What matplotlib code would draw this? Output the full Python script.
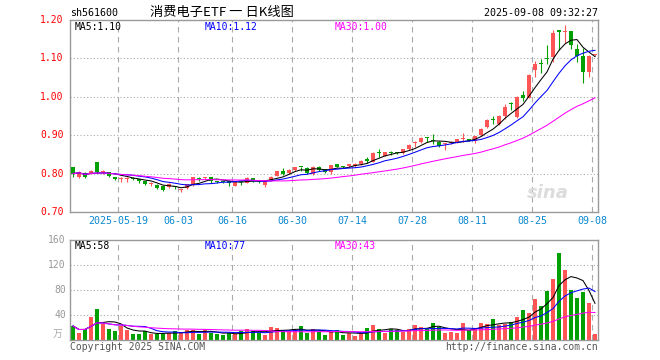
import matplotlib.pyplot as plt
import numpy as np
import pandas as pd

# daily bars 2025-05-07 .. 2025-09-08 (88 trading days)
opens = [0.817, 0.790, 0.801, 0.801, 0.830, 0.803, 0.804, 0.790, 0.785, 0.787,
         0.789, 0.784, 0.780, 0.774, 0.771, 0.767, 0.765, 0.766, 0.756, 0.762,
         0.770, 0.789, 0.788, 0.790, 0.781, 0.779, 0.781, 0.769, 0.779, 0.776,
         0.788, 0.783, 0.770, 0.782, 0.795, 0.806, 0.801, 0.809, 0.817, 0.815,
         0.799, 0.818, 0.811, 0.803, 0.825, 0.818, 0.821, 0.820, 0.824, 0.835,
         0.831, 0.854, 0.846, 0.854, 0.854, 0.853, 0.864, 0.879, 0.882, 0.893,
         0.885, 0.882, 0.876, 0.879, 0.882, 0.891, 0.890, 0.886, 0.900, 0.921,
         0.940, 0.929, 0.950, 0.982, 0.948, 1.004, 0.998, 1.070, 1.086, 1.100,
         1.103, 1.172, 1.168, 1.171, 1.124, 1.107, 1.065, 1.108]
closes = [0.800, 0.804, 0.790, 0.808, 0.804, 0.806, 0.794, 0.787, 0.787, 0.789,
          0.786, 0.782, 0.772, 0.776, 0.763, 0.757, 0.774, 0.764, 0.758, 0.773,
          0.791, 0.787, 0.790, 0.782, 0.779, 0.778, 0.775, 0.779, 0.777, 0.789,
          0.781, 0.777, 0.781, 0.792, 0.807, 0.800, 0.810, 0.817, 0.816, 0.801,
          0.818, 0.810, 0.803, 0.822, 0.818, 0.817, 0.822, 0.826, 0.833, 0.834,
          0.854, 0.853, 0.856, 0.853, 0.853, 0.863, 0.875, 0.882, 0.893, 0.892,
          0.884, 0.873, 0.878, 0.881, 0.889, 0.893, 0.885, 0.898, 0.917, 0.940,
          0.939, 0.950, 0.974, 0.980, 0.999, 0.998, 1.057, 1.085, 1.085, 1.099,
          1.165, 1.170, 1.169, 1.134, 1.107, 1.065, 1.107, 1.110]
highs = [0.818, 0.806, 0.803, 0.810, 0.831, 0.810, 0.805, 0.792, 0.790, 0.790,
         0.790, 0.787, 0.781, 0.779, 0.772, 0.768, 0.775, 0.768, 0.760, 0.774,
         0.792, 0.791, 0.792, 0.791, 0.782, 0.781, 0.782, 0.780, 0.781, 0.790,
         0.789, 0.784, 0.783, 0.794, 0.808, 0.814, 0.811, 0.818, 0.818, 0.816,
         0.819, 0.820, 0.812, 0.823, 0.826, 0.820, 0.825, 0.828, 0.835, 0.842,
         0.856, 0.864, 0.857, 0.860, 0.857, 0.864, 0.876, 0.884, 0.895, 0.896,
         0.902, 0.885, 0.880, 0.884, 0.890, 0.905, 0.891, 0.899, 0.919, 0.941,
         0.950, 0.952, 0.980, 0.986, 1.001, 1.016, 1.059, 1.092, 1.098, 1.134,
         1.174, 1.173, 1.186, 1.172, 1.137, 1.126, 1.108, 1.112]
lows = [0.792, 0.788, 0.788, 0.799, 0.802, 0.798, 0.790, 0.784, 0.777, 0.779,
        0.784, 0.776, 0.770, 0.768, 0.761, 0.755, 0.762, 0.760, 0.753, 0.761,
        0.769, 0.782, 0.786, 0.775, 0.776, 0.775, 0.768, 0.767, 0.770, 0.775,
        0.779, 0.775, 0.766, 0.780, 0.794, 0.797, 0.799, 0.806, 0.808, 0.799,
        0.797, 0.808, 0.801, 0.800, 0.816, 0.814, 0.817, 0.818, 0.822, 0.828,
        0.829, 0.843, 0.845, 0.848, 0.850, 0.852, 0.862, 0.868, 0.880, 0.882,
        0.878, 0.870, 0.862, 0.877, 0.880, 0.883, 0.884, 0.879, 0.898, 0.919,
        0.929, 0.927, 0.943, 0.966, 0.945, 0.988, 0.996, 1.051, 1.061, 1.085,
        1.090, 1.122, 1.141, 1.125, 1.091, 1.037, 1.051, 1.106]
# volume in 万手
vols = [22.4, 11.2, 17.0, 36.8, 49.6, 25.6, 17.6, 14.4, 21.9, 16.5,
        9.6, 9.6, 14.0, 9.0, 10.0, 10.0, 12.0, 14.4, 11.5, 16.0,
        16.0, 9.6, 15.5, 12.0, 10.0, 8.0, 10.7, 9.0, 14.0, 17.0,
        15.0, 11.7, 8.5, 21.3, 19.7, 16.0, 14.0, 14.0, 22.4, 11.7,
        17.6, 13.3, 8.0, 13.0, 16.0, 8.0, 12.0, 6.4, 10.0, 19.2,
        24.0, 17.6, 11.2, 17.6, 16.0, 13.3, 17.6, 24.0, 20.8, 17.6,
        27.2, 20.8, 11.2, 12.8, 11.2, 27.2, 16.0, 19.2, 27.2, 25.6,
        33.6, 24.0, 25.6, 28.8, 36.8, 48.0, 43.7, 65.6, 54.4, 78.4,
        97.6, 139.2, 112.0, 80.0, 67.2, 76.8, 59.7, 9.6]

date_idx = [8, 18, 27, 37, 47, 57, 67, 77, 87]
date_txt = ["2025-05-19", "06-03", "06-16", "06-30", "07-14", "07-28", "08-11", "08-25", "09-08"]
price_ticks = [0.70, 0.80, 0.90, 1.00, 1.10, 1.20]
vol_ticks = [40, 80, 120, 160]

RED = "#ff5555"
GREEN = "#00a000"
BLUE = "#0000ff"
MAG = "#ff00ff"
GRID = "#aaaaaa"
MONO = "DejaVu Sans Mono"

df = pd.DataFrame({"open": opens, "close": closes, "high": highs, "low": lows, "vol": vols})
for n in (5, 10, 30):
    df["ma%d" % n] = df.close.rolling(n, min_periods=1).mean()
    df["vma%d" % n] = df.vol.rolling(n, min_periods=1).mean()

x = np.arange(len(df))
col = np.where(df.close >= df.open, RED, GREEN)

fig = plt.figure(figsize=(6.6, 3.6), dpi=100)
ax = fig.add_axes([70 / 660, 148 / 360, 528 / 660, 192 / 360])
axv = fig.add_axes([70 / 660, 20 / 360, 528 / 660, 100 / 360])

for a in (ax, axv):
    a.set_xlim(-0.5, len(df) - 0.5)
    a.set_xticks([])
    a.set_yticks([])
    for s in a.spines.values():
        s.set_color("#999999")
        s.set_linewidth(1)
    for i in date_idx:
        a.axvline(i - 0.5, color=GRID, lw=0.8, ls=(0, (5, 4)), zorder=0)

# price panel
ax.set_ylim(0.70, 1.20)
for v in price_ticks[1:-1]:
    ax.axhline(v, color=GRID, lw=0.8, ls=(0, (1, 2)), zorder=0)
body_lo = np.minimum(df.open, df.close)
body_h = np.maximum((df.close - df.open).abs(), 0.0028)
ax.vlines(x, df.low, df.high, colors=col, lw=0.8, zorder=2)
ax.bar(x, body_h, bottom=body_lo, width=0.82, color=col, lw=0, zorder=3)
ax.plot(x, df.ma5, color="black", lw=0.75, zorder=4)
ax.plot(x, df.ma10, color=BLUE, lw=0.75, zorder=4)
ax.plot(x, df.ma30, color=MAG, lw=0.75, zorder=4)
for v in price_ticks:
    ax.text(-0.012, v, "%.2f" % v, transform=ax.get_yaxis_transform(),
            ha="right", va="center", color="red", fontsize=7, family=MONO)
for i, t in zip(date_idx, date_txt):
    ax.text(i - 0.5, -0.048, t, transform=ax.get_xaxis_transform(),
            ha="center", va="center", color="#0a88d0", fontsize=7.2, family=MONO)
ax.text(0.905, 0.1, "sina", transform=ax.transAxes, ha="center", va="center",
        color="#dcdcdc", fontsize=13, style="italic", weight="bold", zorder=1)

ax.text(5 / 528, 1 - 7 / 192, "MA5:1.10", transform=ax.transAxes, va="center",
        color="black", fontsize=7, family=MONO)
ax.text(135 / 528, 1 - 7 / 192, "MA10:1.12", transform=ax.transAxes, va="center",
        color=BLUE, fontsize=7, family=MONO)
ax.text(265 / 528, 1 - 7 / 192, "MA30:1.00", transform=ax.transAxes, va="center",
        color=MAG, fontsize=7, family=MONO)

# volume panel
axv.set_ylim(0, 160)
for v in vol_ticks[:-1]:
    axv.axhline(v, color=GRID, lw=0.8, ls=(0, (1, 2)), zorder=0)
axv.bar(x, df.vol, width=0.82, color=col, lw=0, zorder=2)
axv.plot(x, df.vma5, color="black", lw=0.75, zorder=3)
axv.plot(x, df.vma10, color=BLUE, lw=0.75, zorder=3)
axv.plot(x, df.vma30, color=MAG, lw=0.75, zorder=3)
for v in vol_ticks:
    axv.text(-0.008, v, str(v), transform=axv.get_yaxis_transform(),
             ha="right", va="center", color="#999999", fontsize=7, family=MONO)
axv.text(-0.015, 0.06, "万", transform=axv.transAxes, ha="right", va="center",
         color="#aaaaaa", fontsize=7, family=["Noto Sans CJK SC", "DejaVu Sans"])
axv.text(5 / 528, 1 - 6 / 100, "MA5:58", transform=axv.transAxes, va="center",
         color="black", fontsize=7, family=MONO)
axv.text(135 / 528, 1 - 6 / 100, "MA10:77", transform=axv.transAxes, va="center",
         color=BLUE, fontsize=7, family=MONO)
axv.text(265 / 528, 1 - 6 / 100, "MA30:43", transform=axv.transAxes, va="center",
         color=MAG, fontsize=7, family=MONO)

# header / footer
fig.text(70 / 660, 1 - 13 / 360, "sh561600", va="center", fontsize=7.2, family=MONO)
fig.text(222 / 660, 1 - 12.5 / 360, "消费电子ETF 一 日K线图", ha="center", va="center",
         fontsize=9.5, family=["Noto Sans CJK SC", "DejaVu Sans"])
fig.text(598 / 660, 1 - 12.5 / 360, "2025-09-08 09:32:27", ha="right", va="center",
         fontsize=7.2, family=MONO)
fig.text(70 / 660, 1 - 347 / 360, "Copyright 2025 SINA.COM", va="center",
         color="#555555", fontsize=7, family=MONO)
fig.text(598 / 660, 1 - 347 / 360, "http://finance.sina.com.cn", ha="right", va="center",
         color="#555555", fontsize=7, family=MONO)

fig.savefig("out.png", dpi=100)
